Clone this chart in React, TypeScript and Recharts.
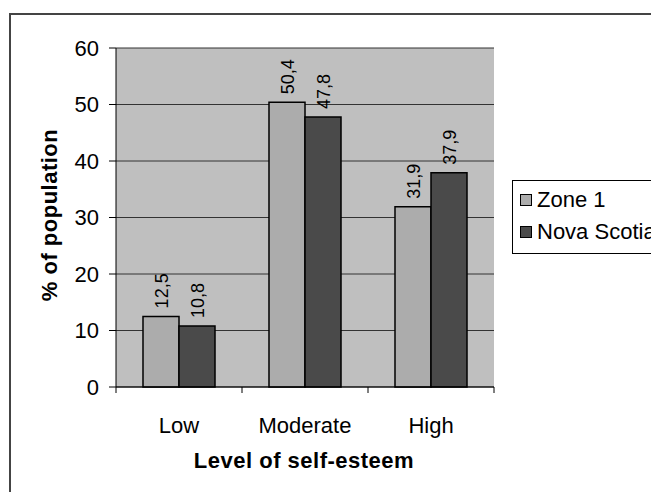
import { Bar, BarChart, CartesianGrid, LabelList, XAxis, YAxis } from "recharts"

const levels = ["Low", "Moderate", "High"]
const zone1 = [12.5, 50.4, 31.9]
const novaScotia = [10.8, 47.8, 37.9]
const yTicks = [0, 10, 20, 30, 40, 50, 60]

const data = levels.map((level, i) => ({ level, zone1: zone1[i], novaScotia: novaScotia[i] }))

const FONT = "'Liberation Sans', Arial, sans-serif"
const PLOT_W = 378

const comma = (v: number) => String(v).replace(".", ",")

function ValueLabel(props: any) {
  const { x, y, width, value } = props
  const cx = x + width / 2 + 7
  const cy = y - 8
  return (
    <text
      x={cx}
      y={cy}
      transform={`rotate(-90 ${cx} ${cy})`}
      fontSize={18}
      fontFamily={FONT}
      fill="#000"
      textAnchor="start"
    >
      {comma(value)}
    </text>
  )
}

function CategoryTick(props: any) {
  const { x, y, payload, index } = props
  const band = PLOT_W / levels.length
  return (
    <g>
      <line x1={x - band / 2} y1={y} x2={x - band / 2} y2={y + 6} stroke="#000" />
      {index === levels.length - 1 && (
        <line x1={x + band / 2} y1={y} x2={x + band / 2} y2={y + 6} stroke="#000" />
      )}
      <text x={x} y={y + 46} textAnchor="middle" fontSize={22} fontFamily={FONT} fill="#000">
        {payload.value}
      </text>
    </g>
  )
}

export default function App() {
  return (
    <div style={{ position: "relative", width: 651, height: 484, background: "#fff" }}>
      <div
        style={{
          position: "absolute",
          left: 1,
          top: 5,
          width: 660,
          height: 490,
          borderLeft: "2px solid #444",
          borderTop: "2px solid #444",
        }}
      />
      <BarChart
        width={651}
        height={484}
        data={data}
        margin={{ top: 40, right: 165, left: 0, bottom: 35 }}
        barGap={0}
        barSize={36}
      >
        <CartesianGrid vertical={false} stroke="#333" fill="#bfbfbf" fillOpacity={1} />
        <XAxis
          dataKey="level"
          height={70}
          axisLine={{ stroke: "#000" }}
          tickLine={false}
          tickSize={0}
          tickMargin={0}
          tick={<CategoryTick />}
          interval={0}
          label={{
            content: () => (
              <text
                x={296}
                y={460}
                textAnchor="middle"
                fontSize={22}
                fontWeight="bold"
                letterSpacing={0.5}
                fontFamily={FONT}
                fill="#000"
              >
                Level of self-esteem
              </text>
            ),
          }}
        />
        <YAxis
          width={108}
          domain={[0, 60]}
          ticks={yTicks}
          interval={0}
          axisLine={{ stroke: "#000" }}
          tickLine={{ stroke: "#000" }}
          tickSize={7}
          tickMargin={10}
          tick={{ fontSize: 22, fontFamily: FONT, fill: "#000" }}
          label={{
            content: () => (
              <text
                x={49}
                y={207}
                transform="rotate(-90 49 207)"
                textAnchor="middle"
                fontSize={22}
                fontWeight="bold"
                letterSpacing={0.5}
                fontFamily={FONT}
                fill="#000"
              >
                % of population
              </text>
            ),
          }}
        />
        <Bar dataKey="zone1" fill="#acacac" stroke="#000" strokeWidth={1.5} isAnimationActive={false}>
          <LabelList dataKey="zone1" content={<ValueLabel />} />
        </Bar>
        <Bar dataKey="novaScotia" fill="#4a4a4a" stroke="#000" strokeWidth={1.5} isAnimationActive={false}>
          <LabelList dataKey="novaScotia" content={<ValueLabel />} />
        </Bar>
      </BarChart>
      <div
        style={{
          position: "absolute",
          left: 504,
          top: 172,
          width: 160,
          height: 72,
          borderTop: "1px solid #000",
          borderBottom: "1px solid #000",
          borderLeft: "1px solid #000",
          fontFamily: FONT,
          fontSize: 22,
          color: "#000",
        }}
      >
        <div style={{ position: "absolute", left: 7, top: 3, display: "flex", alignItems: "center", lineHeight: "32px" }}>
          <span style={{ width: 10, height: 10, background: "#acacac", border: "1px solid #000", marginRight: 5 }} />
          Zone 1
        </div>
        <div style={{ position: "absolute", left: 7, top: 35, display: "flex", alignItems: "center", lineHeight: "32px" }}>
          <span style={{ width: 10, height: 10, background: "#4a4a4a", border: "1px solid #000", marginRight: 5 }} />
          Nova Scotia
        </div>
      </div>
    </div>
  )
}
